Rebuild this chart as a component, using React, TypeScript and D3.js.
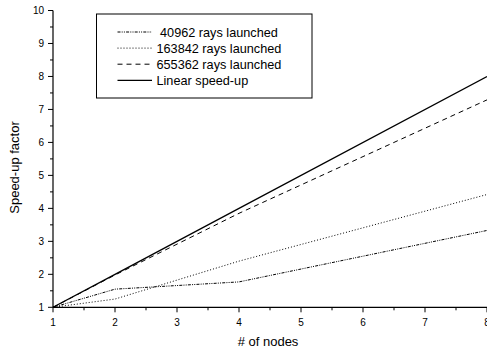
import React from "react";
import * as d3 from "d3";

const nodes = [1, 2, 4, 8];
const rays40962 = [1, 1.55, 1.77, 3.33];
const rays163842 = [1, 1.25, 2.4, 4.42];
const rays655362 = [1, 1.98, 3.85, 7.29];
const linear = [1, 2, 4, 8];

const seriesNames = [" 40962 rays launched", "163842 rays launched", "655362 rays launched", "Linear speed-up"];
const xTicks = [1, 2, 3, 4, 5, 6, 7, 8];
const yTicks = [1, 2, 3, 4, 5, 6, 7, 8, 9, 10];
const xLabel = "# of nodes";
const yLabel = "Speed-up factor";

const W = 487, H = 354;
const dashes = ["3,1.2,1,1.2,1,1.2", "1,2", "5,4", null];
const widths = [1, 1, 1, 1.3];

export default function App() {
  const x = d3.scaleLinear().domain([1, 8]).range([53, 487]);
  const y = d3.scaleLinear().domain([1, 10]).range([307.3, 10.5]);
  const line = d3.line<[number, number]>().x(d => x(d[0])).y(d => y(d[1]));
  const series = [rays40962, rays163842, rays655362, linear];
  const minorX = d3.range(1.5, 8, 1);
  const minorY = d3.range(1.5, 10, 1);
  const font = "Liberation Sans, Arial, Helvetica, sans-serif";
  const lx0 = 117.5, lx1 = 152, ly0 = 32, lstep = 16.1;
  return (
    <svg width={W} height={H} style={{ position: "absolute", left: 0, top: 0, background: "#fff" }} fontFamily={font}>
      <rect x={0} y={0} width={W} height={H} fill="#fff" />
      {series.map((s, i) => (
        <path key={i} d={line(nodes.map((n, j) => [n, s[j]]) as [number, number][]) || ""}
          fill="none" stroke="#000" strokeWidth={widths[i]} strokeDasharray={dashes[i] || undefined} />
      ))}
      {/* axes */}
      <line x1={x(1)} x2={x(8)} y1={y(1)} y2={y(1)} stroke="#000" strokeWidth={1.2} />
      <line x1={x(1)} x2={x(1)} y1={y(1)} y2={y(10)} stroke="#000" strokeWidth={1.2} />
      {xTicks.map(t => (
        <g key={"xt" + t}>
          <line x1={x(t)} x2={x(t)} y1={y(1)} y2={y(1) + 5} stroke="#000" />
          <text x={x(t)} y={325.5} textAnchor="middle" fontSize={10}>{t}</text>
        </g>
      ))}
      {minorX.map(t => (
        <line key={"xm" + t} x1={x(t)} x2={x(t)} y1={y(1)} y2={y(1) + 3} stroke="#000" />
      ))}
      {yTicks.map(t => (
        <g key={"yt" + t}>
          <line x1={x(1) - 5} x2={x(1)} y1={y(t)} y2={y(t)} stroke="#000" />
          <text x={44} y={y(t) + 3.6} textAnchor="end" fontSize={10}>{t}</text>
        </g>
      ))}
      {minorY.map(t => (
        <line key={"ym" + t} x1={x(1) - 3} x2={x(1)} y1={y(t)} y2={y(t)} stroke="#000" />
      ))}
      <text x={268} y={346} textAnchor="middle" fontSize={13}>{xLabel}</text>
      <text transform={`translate(18.5,167.5) rotate(-90)`} textAnchor="middle" fontSize={13}>{yLabel}</text>
      {/* legend */}
      <rect x={96.5} y={14} width={215.5} height={84} fill="#fff" stroke="#000" strokeWidth={1} />
      {seriesNames.map((name, i) => (
        <g key={"lg" + i}>
          <line x1={lx0} x2={lx1} y1={ly0 + i * lstep} y2={ly0 + i * lstep} stroke="#000"
            strokeWidth={widths[i]} strokeDasharray={dashes[i] || undefined} />
          <text x={156.5} y={ly0 + i * lstep + 4.5} fontSize={12.7} style={{ whiteSpace: "pre" }}>{name}</text>
        </g>
      ))}
    </svg>
  );
}
